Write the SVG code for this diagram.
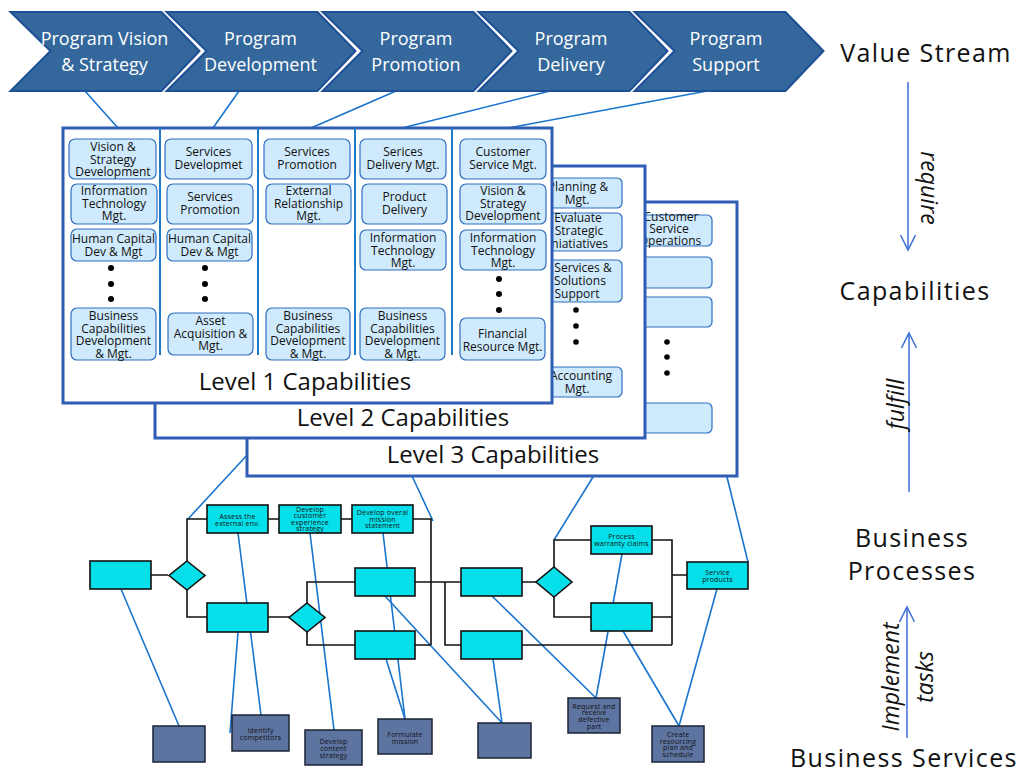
<svg xmlns="http://www.w3.org/2000/svg" width="1023" height="774" viewBox="0 0 1023 774">
<defs>
<style>
.chev{fill:#34679b;stroke:#1f4f96;stroke-width:2}
.chevt{font-family:"Open Sans","DejaVu Sans",sans-serif;font-size:18px;fill:#ffffff;text-anchor:middle}
.lvl{fill:#ffffff;stroke:#2f5db5;stroke-width:3}
.lvlt{font-family:"Open Sans","DejaVu Sans",sans-serif;font-size:24px;fill:#111111;text-anchor:middle}
.div{stroke:#1f7ac8;stroke-width:2}
.cap{fill:#cfeafc;stroke:#2e6fbf;stroke-width:1.2}
.capt{font-family:"Open Sans","DejaVu Sans",sans-serif;font-size:12px;fill:#111111;text-anchor:middle}
.dot{fill:#000000}
.pbox{fill:#05dfe9;stroke:#111111;stroke-width:1.6}
.pt{font-family:"Open Sans","DejaVu Sans",sans-serif;font-size:7px;fill:#111111;text-anchor:middle;letter-spacing:0.2px}
.sbox{fill:#5d74a1;stroke:#1b2333;stroke-width:1.5}
.st{font-family:"Open Sans","DejaVu Sans",sans-serif;font-size:7px;fill:#111111;text-anchor:middle;letter-spacing:0.2px}
.flow{fill:none;stroke:#111111;stroke-width:1.6}
.conn{fill:none;stroke:#1874cd;stroke-width:1.6}
.arr{fill:none;stroke:#3b6fd4;stroke-width:1.5}
.side{font-family:"Open Sans","DejaVu Sans",sans-serif;font-size:25px;fill:#111111;text-anchor:middle;letter-spacing:1.4px}
.verb{font-family:"Open Sans","DejaVu Sans",sans-serif;font-size:23px;font-style:italic;fill:#111111;text-anchor:middle}
</style>
<marker id="ah" markerUnits="userSpaceOnUse" markerWidth="20" markerHeight="20" refX="16" refY="8" orient="auto">
<path d="M1,0.5 L16,8 L1,15.5" fill="none" stroke="#3b6fd4" stroke-width="1.5"/>
</marker>
</defs>
<rect width="1023" height="774" fill="#ffffff"/>

<g id="connectors">
<line class="conn" x1="85" y1="91" x2="118" y2="128"/>
<line class="conn" x1="239" y1="91" x2="213" y2="128"/>
<line class="conn" x1="396" y1="91" x2="311" y2="128"/>
<line class="conn" x1="550" y1="91" x2="402" y2="128"/>
<line class="conn" x1="707" y1="91" x2="508" y2="128"/>
<line class="conn" x1="260" y1="441" x2="188" y2="519"/>
<line class="conn" x1="412" y1="476" x2="433" y2="521"/>
<line class="conn" x1="593" y1="477" x2="554" y2="540"/>
<line class="conn" x1="727" y1="477" x2="748" y2="562"/>
<line class="conn" x1="121" y1="589" x2="179" y2="726"/>
<line class="conn" x1="238" y1="632" x2="230" y2="733"/>
<line class="conn" x1="238" y1="533" x2="261" y2="715"/>
<line class="conn" x1="310" y1="533" x2="334" y2="730"/>
<line class="conn" x1="383" y1="533" x2="405" y2="719"/>
<line class="conn" x1="386" y1="659" x2="405" y2="719"/>
<line class="conn" x1="385" y1="596" x2="502" y2="723"/>
<line class="conn" x1="493" y1="659" x2="502" y2="723"/>
<line class="conn" x1="492" y1="596" x2="596" y2="698"/>
<line class="conn" x1="622" y1="554" x2="596" y2="698"/>
<line class="conn" x1="623" y1="631" x2="679" y2="726"/>
<line class="conn" x1="717" y1="589" x2="679" y2="726"/>
<path class="flow" d="M151,575 H168 M187,561 V519 H207 M187,590 V617 H207 M268,519 H279 M341,519 H352 M413,519 H431 V645 M268,617 H289 M307,603 V582 H355 M307,632 V645 H355 M415,582 H461 M415,645 H431 M445,582 V645 H461 M522,582 H537 M554,567 V540 H591 M554,597 V617 H591 M652,540 H672 V645 M652,617 H672 M522,645 H672 M672,575 H687"/>
<line class="arr" x1="908" y1="82" x2="908" y2="250" marker-end="url(#ah)"/>
<line class="arr" x1="909" y1="492" x2="909" y2="333" marker-end="url(#ah)"/>
<line class="arr" x1="907" y1="738" x2="907" y2="607" marker-end="url(#ah)"/>
</g>

<g id="value-stream">
<g id="chev-vision">
<polygon class="chev" points="10.5,12 161.5,12 199.5,51 161.5,91 10.5,91 50.5,51"/>
<text class="chevt" x="104.5" y="45">Program Vision</text>
<text class="chevt" x="104.5" y="71">&amp; Strategy</text>
</g>
<g id="chev-development">
<polygon class="chev" points="166.5,12 317.5,12 355.5,51 317.5,91 166.5,91 206.5,51"/>
<text class="chevt" x="260.5" y="45">Program</text>
<text class="chevt" x="260.5" y="71">Development</text>
</g>
<g id="chev-promotion">
<polygon class="chev" points="322.5,12 473.5,12 511.5,51 473.5,91 322.5,91 362.5,51"/>
<text class="chevt" x="416" y="45">Program</text>
<text class="chevt" x="416" y="71">Promotion</text>
</g>
<g id="chev-delivery">
<polygon class="chev" points="478.5,12 629.5,12 667.5,51 629.5,91 478.5,91 518.5,51"/>
<text class="chevt" x="571" y="45">Program</text>
<text class="chevt" x="571" y="71">Delivery</text>
</g>
<g id="chev-support">
<polygon class="chev" points="634.5,12 785.5,12 823.5,51 785.5,91 634.5,91 674.5,51"/>
<text class="chevt" x="726" y="45">Program</text>
<text class="chevt" x="726" y="71">Support</text>
</g>
</g>

<g id="level3">
<rect class="lvl" x="247" y="202" width="490" height="274"/>
<rect class="cap" x="626" y="215" width="86" height="31" rx="5"/>
<text class="capt" x="671" y="221">Customer</text>
<text class="capt" x="669" y="233">Service</text>
<text class="capt" x="670" y="245">Operations</text>
<rect class="cap" x="626" y="257" width="86" height="31" rx="5"/>
<rect class="cap" x="626" y="297" width="86" height="30" rx="5"/>
<circle class="dot" cx="667" cy="342" r="2.8"/>
<circle class="dot" cx="667" cy="357" r="2.8"/>
<circle class="dot" cx="667" cy="373" r="2.8"/>
<rect class="cap" x="626" y="403" width="86" height="30" rx="5"/>
<text class="lvlt" x="493" y="463">Level 3 Capabilities</text>
</g>

<g id="level2">
<rect class="lvl" x="155" y="166" width="490" height="272"/>
<rect class="cap" x="536" y="178" width="86" height="30" rx="5"/>
<text class="capt" x="578" y="191">Planning &amp;</text>
<text class="capt" x="577" y="204">Mgt.</text>
<rect class="cap" x="536" y="213" width="86" height="38" rx="5"/>
<text class="capt" x="578" y="222">Evaluate</text>
<text class="capt" x="579" y="235">Strategic</text>
<text class="capt" x="578" y="248">Iniatiatives</text>
<rect class="cap" x="536" y="260" width="86" height="42" rx="5"/>
<text class="capt" x="583" y="272">Services &amp;</text>
<text class="capt" x="580" y="285">Solutions</text>
<text class="capt" x="577" y="298">Support</text>
<circle class="dot" cx="576" cy="310" r="2.8"/>
<circle class="dot" cx="576" cy="326" r="2.8"/>
<circle class="dot" cx="576" cy="342" r="2.8"/>
<rect class="cap" x="536" y="367" width="86" height="30" rx="5"/>
<text class="capt" x="581" y="380">Accounting</text>
<text class="capt" x="577" y="393">Mgt.</text>
<text class="lvlt" x="403" y="426">Level 2 Capabilities</text>
</g>

<g id="level1">
<rect class="lvl" x="63" y="128" width="489" height="275"/>
<line class="div" x1="160" y1="128" x2="160" y2="355"/>
<line class="div" x1="258" y1="128" x2="258" y2="355"/>
<line class="div" x1="355" y1="128" x2="355" y2="355"/>
<line class="div" x1="452" y1="128" x2="452" y2="355"/>
<g id="col1">
<rect class="cap" x="69" y="139" width="87" height="40" rx="6"/>
<text class="capt" x="113" y="151">Vision &amp;</text>
<text class="capt" x="113" y="163.5">Strategy</text>
<text class="capt" x="113" y="176">Development</text>
<rect class="cap" x="71" y="184" width="86" height="40" rx="6"/>
<text class="capt" x="114" y="195">Information</text>
<text class="capt" x="114" y="207.5">Technology</text>
<text class="capt" x="114" y="220">Mgt.</text>
<rect class="cap" x="71" y="229" width="85" height="32" rx="6"/>
<text class="capt" x="113.5" y="243">Human Capital</text>
<text class="capt" x="113.5" y="255.5">Dev &amp; Mgt</text>
<circle class="dot" cx="111" cy="268" r="3"/>
<circle class="dot" cx="111" cy="284" r="3"/>
<circle class="dot" cx="111" cy="299" r="3"/>
<rect class="cap" x="71" y="308" width="85" height="52" rx="6"/>
<text class="capt" x="113.5" y="320">Business</text>
<text class="capt" x="113.5" y="332.5">Capabilities</text>
<text class="capt" x="113.5" y="345">Development</text>
<text class="capt" x="113.5" y="357.5">&amp; Mgt.</text>
</g>
<g id="col2">
<rect class="cap" x="165" y="139" width="87" height="40" rx="6"/>
<text class="capt" x="208.5" y="156">Services</text>
<text class="capt" x="208.5" y="168.5">Developmet</text>
<rect class="cap" x="167" y="184" width="86" height="40" rx="6"/>
<text class="capt" x="210" y="201">Services</text>
<text class="capt" x="210" y="213.5">Promotion</text>
<rect class="cap" x="167" y="229" width="85" height="32" rx="6"/>
<text class="capt" x="209.5" y="243">Human Capital</text>
<text class="capt" x="209.5" y="255.5">Dev &amp; Mgt</text>
<circle class="dot" cx="205" cy="268" r="3"/>
<circle class="dot" cx="205" cy="284" r="3"/>
<circle class="dot" cx="205" cy="299" r="3"/>
<rect class="cap" x="168" y="313" width="85" height="42" rx="6"/>
<text class="capt" x="210.5" y="325">Asset</text>
<text class="capt" x="210.5" y="337.5">Acquisition &amp;</text>
<text class="capt" x="210.5" y="350">Mgt.</text>
</g>
<g id="col3">
<rect class="cap" x="264" y="139" width="86" height="40" rx="6"/>
<text class="capt" x="307" y="156">Services</text>
<text class="capt" x="307" y="168.5">Promotion</text>
<rect class="cap" x="266" y="184" width="85" height="40" rx="6"/>
<text class="capt" x="308.5" y="195">External</text>
<text class="capt" x="308.5" y="207.5">Relationship</text>
<text class="capt" x="308.5" y="220">Mgt.</text>
<rect class="cap" x="266" y="308" width="84" height="52" rx="6"/>
<text class="capt" x="308" y="320">Business</text>
<text class="capt" x="308" y="332.5">Capabilities</text>
<text class="capt" x="308" y="345">Development</text>
<text class="capt" x="308" y="357.5">&amp; Mgt.</text>
</g>
<g id="col4">
<rect class="cap" x="360" y="139" width="86" height="40" rx="6"/>
<text class="capt" x="403" y="156">Serices</text>
<text class="capt" x="403" y="168.5">Delivery Mgt.</text>
<rect class="cap" x="362" y="184" width="85" height="40" rx="6"/>
<text class="capt" x="404.5" y="201">Product</text>
<text class="capt" x="404.5" y="213.5">Delivery</text>
<rect class="cap" x="360" y="230" width="86" height="40" rx="6"/>
<text class="capt" x="403" y="242">Information</text>
<text class="capt" x="403" y="254.5">Technology</text>
<text class="capt" x="403" y="267">Mgt.</text>
<rect class="cap" x="360" y="308" width="85" height="52" rx="6"/>
<text class="capt" x="402.5" y="320">Business</text>
<text class="capt" x="402.5" y="332.5">Capabilities</text>
<text class="capt" x="402.5" y="345">Development</text>
<text class="capt" x="402.5" y="357.5">&amp; Mgt.</text>
</g>
<g id="col5">
<rect class="cap" x="460" y="139" width="86" height="40" rx="6"/>
<text class="capt" x="503" y="156">Customer</text>
<text class="capt" x="503" y="168.5">Service Mgt.</text>
<rect class="cap" x="460" y="184" width="86" height="40" rx="6"/>
<text class="capt" x="503" y="195">Vision &amp;</text>
<text class="capt" x="503" y="207.5">Strategy</text>
<text class="capt" x="503" y="220">Development</text>
<rect class="cap" x="460" y="230" width="86" height="40" rx="6"/>
<text class="capt" x="503" y="242">Information</text>
<text class="capt" x="503" y="254.5">Technology</text>
<text class="capt" x="503" y="267">Mgt.</text>
<circle class="dot" cx="499" cy="279" r="3"/>
<circle class="dot" cx="499" cy="294" r="3"/>
<circle class="dot" cx="499" cy="310" r="3"/>
<rect class="cap" x="460" y="318" width="85" height="42" rx="6"/>
<text class="capt" x="502.5" y="338">Financial</text>
<text class="capt" x="502.5" y="350.5">Resource Mgt.</text>
</g>
<text class="lvlt" x="305" y="390">Level 1 Capabilities</text>
</g>

<g id="processes">
<rect id="p-start" class="pbox" x="90" y="561" width="61" height="28"/>
<polygon id="p-dec1" class="pbox" points="187,561 205,575.5 187,590 169,575.5"/>
<g id="p-assess">
<rect class="pbox" x="207" y="505" width="61" height="28"/>
<text class="pt" x="237.5" y="518.5">Assess the</text>
<text class="pt" x="237.5" y="525.5">external env.</text>
</g>
<g id="p-cx">
<rect class="pbox" x="279" y="505" width="62" height="28"/>
<text class="pt" x="310" y="511.5">Develop</text>
<text class="pt" x="310" y="518">customer</text>
<text class="pt" x="310" y="524.5">experience</text>
<text class="pt" x="310" y="531">strategy</text>
</g>
<g id="p-mission">
<rect class="pbox" x="352" y="505" width="61" height="28"/>
<text class="pt" x="382.5" y="515">Develop overal</text>
<text class="pt" x="382.5" y="521.7">mission</text>
<text class="pt" x="382.5" y="528.4">statement</text>
</g>
<rect id="p-b" class="pbox" x="207" y="603" width="61" height="29"/>
<polygon id="p-dec2" class="pbox" points="307,603 325,617.5 307,632 289,617.5"/>
<rect id="p-c" class="pbox" x="355" y="568" width="60" height="28"/>
<rect id="p-d" class="pbox" x="355" y="631" width="60" height="28"/>
<rect id="p-e" class="pbox" x="461" y="568" width="61" height="28"/>
<rect id="p-f" class="pbox" x="461" y="631" width="61" height="28"/>
<polygon id="p-dec3" class="pbox" points="554,567 572,582 554,597 536,582"/>
<g id="p-warranty">
<rect class="pbox" x="591" y="526" width="61" height="28"/>
<text class="pt" x="621.5" y="538.5">Process</text>
<text class="pt" x="621.5" y="545.5">warranty claims</text>
</g>
<rect id="p-g" class="pbox" x="591" y="603" width="61" height="28"/>
<g id="p-service">
<rect class="pbox" x="687" y="562" width="61" height="27"/>
<text class="pt" x="717.5" y="574.5">Service</text>
<text class="pt" x="717.5" y="581.5">products</text>
</g>
</g>

<g id="services">
<rect id="s1" class="sbox" x="153" y="726" width="52" height="36"/>
<g id="s2">
<rect class="sbox" x="232" y="715" width="57" height="36"/>
<text class="st" x="260.5" y="732.5">Identify</text>
<text class="st" x="260.5" y="740">competitors</text>
</g>
<g id="s3">
<rect class="sbox" x="305" y="730" width="57" height="35"/>
<text class="st" x="333.5" y="744">Develop</text>
<text class="st" x="333.5" y="751">content</text>
<text class="st" x="333.5" y="758">strategy</text>
</g>
<g id="s4">
<rect class="sbox" x="378" y="719" width="54" height="35"/>
<text class="st" x="405" y="736.5">Formulate</text>
<text class="st" x="405" y="744">mission</text>
</g>
<rect id="s5" class="sbox" x="478" y="723" width="53" height="35"/>
<g id="s6">
<rect class="sbox" x="568" y="698" width="52" height="35"/>
<text class="st" x="594" y="708.5">Request and</text>
<text class="st" x="594" y="715.2">receive</text>
<text class="st" x="594" y="721.9">defective</text>
<text class="st" x="594" y="728.6">part</text>
</g>
<g id="s7">
<rect class="sbox" x="652" y="726" width="52" height="36"/>
<text class="st" x="678" y="737">Create</text>
<text class="st" x="678" y="743.7">resourcing</text>
<text class="st" x="678" y="750.4">plan and</text>
<text class="st" x="678" y="757.1">schedule</text>
</g>
</g>

<g id="side-labels">
<text class="side" x="926" y="62">Value Stream</text>
<text class="side" x="915" y="300">Capabilities</text>
<text class="side" x="912" y="547">Business</text>
<text class="side" x="912" y="580">Processes</text>
<text class="side" x="904" y="767">Business Services</text>
<text class="verb" transform="translate(921,188) rotate(90)">require</text>
<text class="verb" transform="translate(904,404) rotate(-90)">fulfill</text>
<text class="verb" transform="translate(899,677) rotate(-90)">Implement</text>
<text class="verb" transform="translate(933,677) rotate(-90)">tasks</text>
</g>
</svg>
